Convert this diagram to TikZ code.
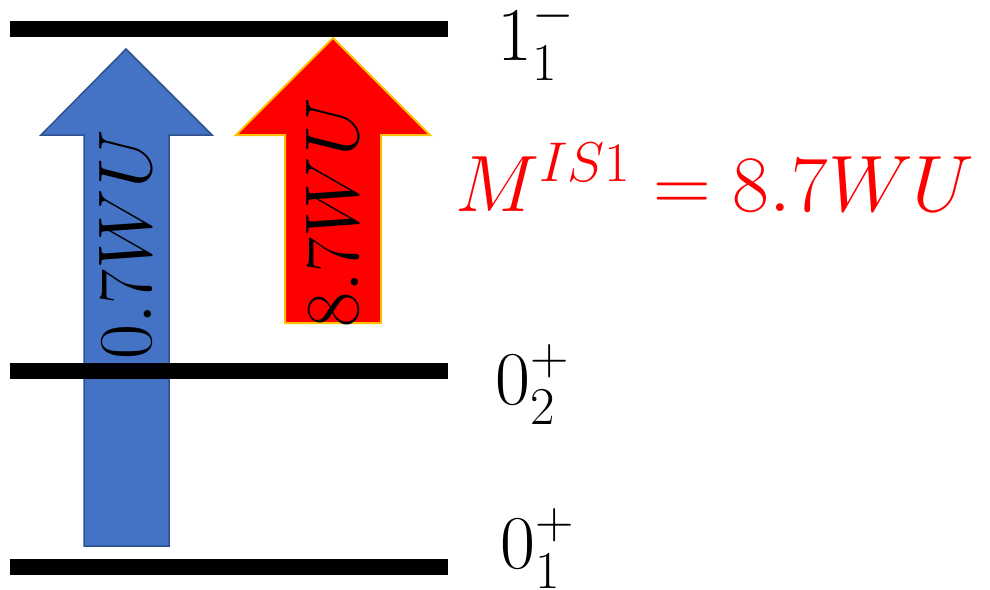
\documentclass[tikz,border=0pt]{standalone}
\usepackage{fix-cm}
\usepackage{amsmath,amssymb}
\usepackage{xcolor}
\usepackage{tikz}
\usetikzlibrary{positioning}
\definecolor{arrblue}{HTML}{4472C4}
\definecolor{arrblueedge}{HTML}{2F528F}
\definecolor{arrgold}{HTML}{FFC000}

\begin{document}
\begin{tikzpicture}[
  x=1pt, y=-1pt,
  level/.style={line width=16pt, black},
  blueup/.style={fill=arrblue, draw=arrblueedge, line width=1.5pt, line join=miter},
  redup/.style={fill=red, draw=arrgold, line width=2pt, line join=miter},
  bigmath/.style={inner sep=0pt, font=\fontsize{76}{80}\selectfont},
  strength/.style={bigmath, rotate=90, anchor=center}
]
\useasboundingbox (0,0) rectangle (990,589);
% transition arrows (behind the levels)
\draw[blueup] (84,546) -- (84,135) -- (41,135) -- (126,49) -- (212,135)
  -- (169,135) -- (169,546) -- cycle;
\draw[redup] (285,323) -- (285,135) -- (236,135) -- (333,38) -- (430,135)
  -- (381,135) -- (381,323) -- cycle;
\node[strength] (bluelab) at (126,245) {$0.7WU$};
\node[strength] (redlab) at (333,213) {$8.7WU$};
% levels
\coordinate (topL) at (10,29);   \coordinate (topR) at (448,29);
\coordinate (midL) at (10,371);  \coordinate (midR) at (448,371);
\coordinate (botL) at (10,567);  \coordinate (botR) at (448,567);
\draw[level] (topL) -- (topR);
\draw[level] (midL) -- (midR);
\draw[level] (botL) -- (botR);
\node[bigmath, anchor=base west] (lvlone) at (497,60) {$1_1^-$};
\node[bigmath, anchor=base west] (lvlzerob) at (495,404) {$0_2^+$};
\node[bigmath, anchor=base west] (lvlzeroa) at (500,568) {$0_1^+$};
\node[bigmath, anchor=base west, text=red, font=\fontsize{80}{84}\selectfont]
  (isone) at (455,211) {$M^{IS1}=8.7WU$};
\end{tikzpicture}
\end{document}
